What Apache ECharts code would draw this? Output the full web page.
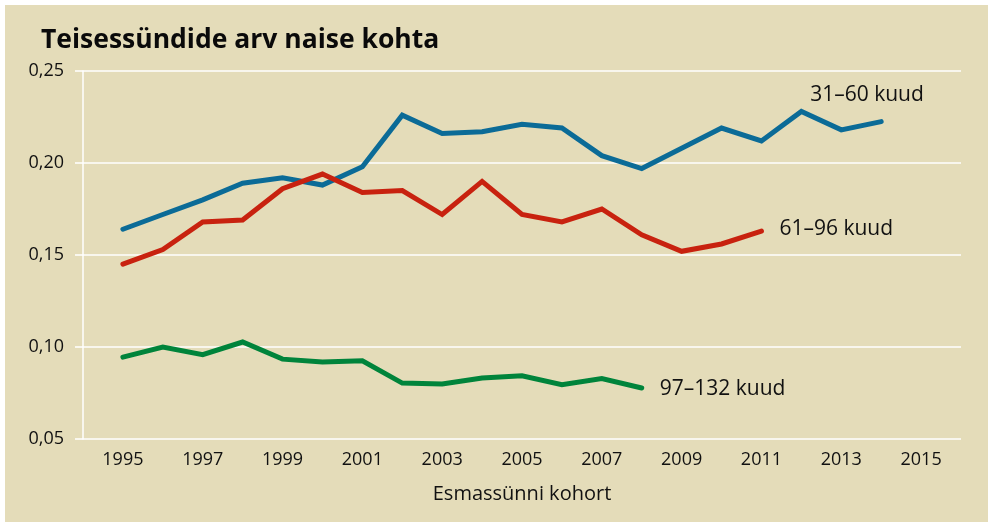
<!DOCTYPE html>
<html>
<head>
<meta charset="utf-8">
<script src="https://cdn.jsdelivr.net/npm/echarts@6/dist/echarts.min.js"></script>
<style>
  html, body { margin: 0; padding: 0; background: #ffffff; }
  #chart { position: absolute; left: 5px; top: 5px; width: 983px; height: 517px; }
</style>
</head>
<body>
<div id="chart"></div>
<script>
// kohordid
var years = [1995, 1996, 1997, 1998, 1999, 2000, 2001, 2002, 2003, 2004,
             2005, 2006, 2007, 2008, 2009, 2010, 2011, 2012, 2013, 2014];

var s31_60 = [0.164, 0.172, 0.180, 0.189, 0.192, 0.188, 0.198, 0.226, 0.216, 0.217,
              0.221, 0.219, 0.204, 0.197, 0.208, 0.219, 0.212, 0.228, 0.218, 0.2225];
var s61_96 = [0.145, 0.153, 0.168, 0.169, 0.186, 0.194, 0.184, 0.185, 0.172, 0.190,
              0.172, 0.168, 0.175, 0.161, 0.152, 0.156, 0.163];
var s97_132 = [0.0945, 0.100, 0.0958, 0.1027, 0.0934, 0.0918, 0.0925, 0.0804, 0.0799, 0.0831,
               0.0844, 0.0795, 0.0828, 0.0777];

var seriesNames = ['31–60 kuud', '61–96 kuud', '97–132 kuud'];
var colors = ['#0b6b97', '#c8220f', '#00843b'];

function pairs(vals) {
  return vals.map(function (v, i) { return [years[i], v]; });
}

var fnt = '"Open Sans", "Noto Sans", sans-serif';
var txt = '#111111';

var chart = echarts.init(document.getElementById('chart'));
chart.setOption({
  backgroundColor: '#e4dcb9',
  animation: false,
  title: {
    text: 'Teisessündide arv naise kohta',
    left: 36,
    top: 22,
    padding: 0,
    textStyle: { fontFamily: fnt, fontSize: 26.5, fontWeight: 'bold', color: '#0a0a0a' }
  },
  grid: { left: 78, right: 27, top: 66, bottom: 83 },
  xAxis: {
    type: 'value',
    min: 1994,
    max: 2016,
    interval: 1,
    name: 'Esmassünni kohort',
    nameLocation: 'middle',
    nameGap: 45,
    nameTextStyle: { fontFamily: fnt, fontSize: 20, color: txt },
    axisLine: { show: false },
    axisTick: { show: false },
    splitLine: { show: false },
    axisLabel: {
      fontFamily: fnt, fontSize: 18, color: txt, margin: 12,
      formatter: function (v) { return v % 2 === 1 ? String(v) : ''; }
    }
  },
  yAxis: {
    type: 'value',
    min: 0.05,
    max: 0.25,
    interval: 0.05,
    axisLine: { show: true, lineStyle: { color: '#ffffff', width: 1.5 } },
    axisTick: { show: true, length: 8, lineStyle: { color: '#ffffff', width: 1.5 } },
    splitLine: { lineStyle: { color: '#ffffff', width: 1.5 } },
    axisLabel: {
      fontFamily: fnt, fontSize: 18, color: txt, margin: 19,
      formatter: function (v) { return v.toFixed(2).replace('.', ','); }
    }
  },
  series: [
    {
      name: seriesNames[0], type: 'line', data: pairs(s31_60),
      symbol: 'none', lineStyle: { width: 5, color: colors[0], cap: 'round', join: 'miter' },
      endLabel: {
        show: true, formatter: seriesNames[0], distance: 18, offset: [-89, -27],
        fontFamily: fnt, fontSize: 21, color: txt
      }
    },
    {
      name: seriesNames[1], type: 'line', data: pairs(s61_96),
      symbol: 'none', lineStyle: { width: 5, color: colors[1], cap: 'round', join: 'miter' },
      endLabel: {
        show: true, formatter: seriesNames[1], distance: 18, offset: [0, -2],
        fontFamily: fnt, fontSize: 21, color: txt
      }
    },
    {
      name: seriesNames[2], type: 'line', data: pairs(s97_132),
      symbol: 'none', lineStyle: { width: 5, color: colors[2], cap: 'round', join: 'miter' },
      endLabel: {
        show: true, formatter: seriesNames[2], distance: 18, offset: [0, 1],
        fontFamily: fnt, fontSize: 21, color: txt
      }
    }
  ]
});
</script>
</body>
</html>
